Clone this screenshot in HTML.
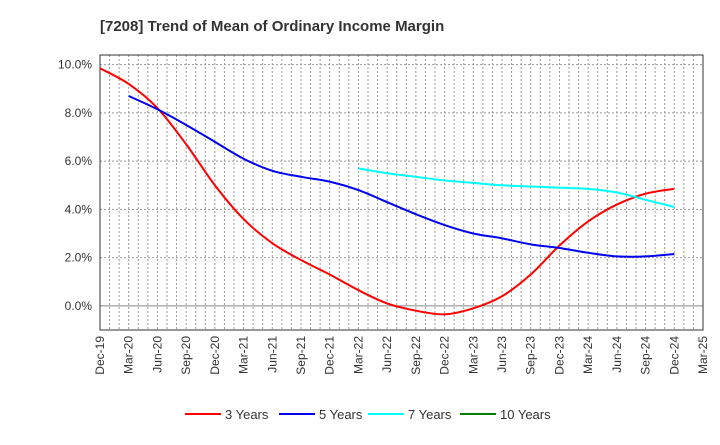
<!DOCTYPE html>
<html><head><meta charset="utf-8"><style>
body{margin:0;background:#fff;font-family:"Liberation Sans",Arial,sans-serif;}
</style></head><body>
<svg id="c" width="720" height="440" xmlns="http://www.w3.org/2000/svg">
<text x="100" y="31" font-size="15" font-weight="bold" fill="#333">[7208]  Trend of Mean of Ordinary Income Margin</text>
<g id="grid"></g><g id="axes"></g><g id="series"></g><g id="legend"></g>
</svg>
<script>
const xLabels=["Dec-19","Mar-20","Jun-20","Sep-20","Dec-20","Mar-21","Jun-21","Sep-21","Dec-21","Mar-22","Jun-22","Sep-22","Dec-22","Mar-23","Jun-23","Sep-23","Dec-23","Mar-24","Jun-24","Sep-24","Dec-24","Mar-25"];
const yTicks=[0,2,4,6,8,10];
const s3=[9.85,9.2,8.2,6.7,5.0,3.6,2.6,1.9,1.3,0.65,0.1,-0.2,-0.35,-0.1,0.4,1.3,2.5,3.5,4.2,4.65,4.85];
const s5=[null,8.7,8.15,7.5,6.8,6.1,5.6,5.35,5.15,4.8,4.3,3.8,3.35,3.0,2.8,2.55,2.4,2.2,2.05,2.05,2.15];
const s7=[null,null,null,null,null,null,null,null,null,5.7,5.5,5.35,5.2,5.1,5.0,4.95,4.9,4.85,4.7,4.4,4.1];
const s10=[];
const L=100,R=703,T=55,B=330,yMin=-1,yMax=10.4;
const X=i=>L+i*(R-L)/21, Y=v=>B-(v-yMin)/(yMax-yMin)*(B-T);
const NS="http://www.w3.org/2000/svg";
function mk(p,t,a){const e=document.createElementNS(NS,t);for(const k in a)e.setAttribute(k,a[k]);p.appendChild(e);return e;}
const g=document.getElementById('grid'),ax=document.getElementById('axes'),sg=document.getElementById('series'),lg=document.getElementById('legend');
for(let m=1;m<63;m++){const x=L+m*(R-L)/63;const l=mk(g,'line',{x1:x,x2:x,y1:T,y2:B,stroke:'#999','stroke-dasharray':'2,2','stroke-width':1});

}
yTicks.forEach(v=>{const l=mk(g,'line',{x1:L,x2:R,y1:Y(v),y2:Y(v),stroke:v===0?'#888':'#999','stroke-dasharray':v===0?'':'2,2'});


const t=mk(ax,'text',{x:L-8,y:Y(v)+4,'text-anchor':'end','font-size':12,fill:'#333'});t.textContent=v.toFixed(1)+'%';

});
const fr=mk(ax,'rect',{x:L,y:T,width:R-L,height:B-T,fill:'none',stroke:'#333'});


xLabels.forEach((s,i)=>{const t=mk(ax,'text',{transform:`translate(${X(i)+4},${B+6}) rotate(-90)`,'text-anchor':'end','font-size':12,fill:'#333'});t.textContent=s;

});
function path(d){const p=[];d.forEach((v,i)=>{if(v!=null)p.push([X(i),Y(v)]);});if(!p.length)return '';
let s=`M${p[0][0]},${p[0][1]}`;for(let i=0;i<p.length-1;i++){const p0=p[i-1]||p[i],p1=p[i],p2=p[i+1],p3=p[i+2]||p2;
s+=` C${p1[0]+(p2[0]-p0[0])/6},${p1[1]+(p2[1]-p0[1])/6} ${p2[0]-(p3[0]-p1[0])/6},${p2[1]-(p3[1]-p1[1])/6} ${p2[0]},${p2[1]}`;}return s;}
const series=[["3 Years",s3,"#ff0000"],["5 Years",s5,"#0000ee"],["7 Years",s7,"#00ffff"],["10 Years",s10,"#008000"]];
series.forEach(([n,d,c],k)=>{const p=mk(sg,'path',{d:path(d),fill:'none',stroke:c,'stroke-width':2});


const lx=[185,279,368,460][k];
const ll=mk(lg,'line',{x1:lx,x2:lx+36,y1:414,y2:414,stroke:c,'stroke-width':2});


const t=mk(lg,'text',{x:lx+40,y:419,'font-size':13,fill:'#333'});t.textContent=n;

});
</script>
</body></html>
